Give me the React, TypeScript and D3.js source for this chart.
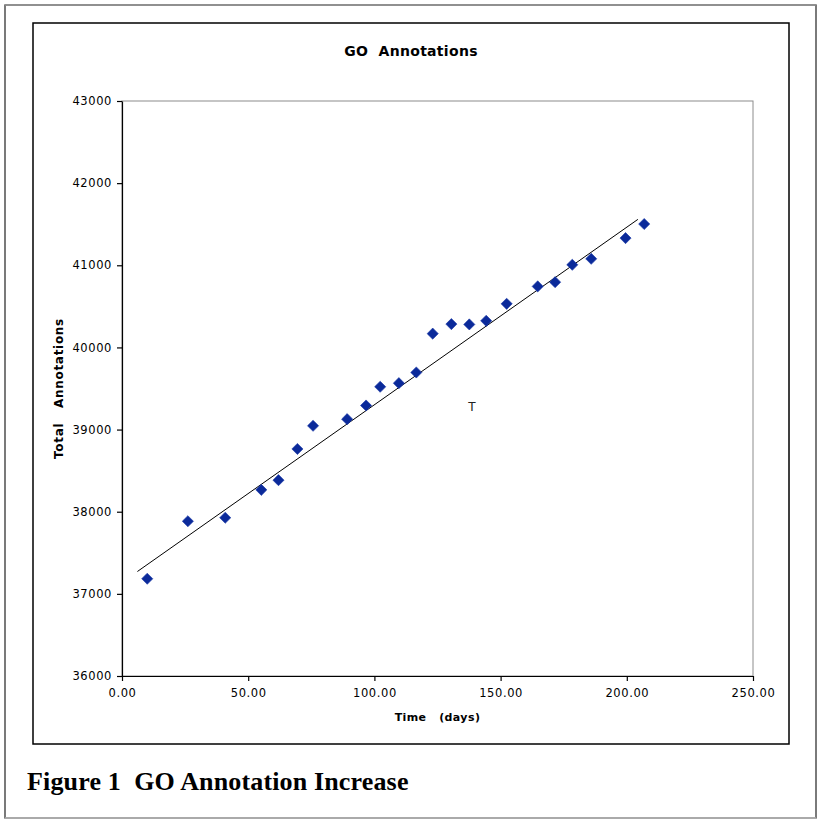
import React, { useEffect, useRef } from "react";
import * as d3 from "d3";

// days since start vs total GO annotations
const days = [
  10.0, 26.1, 40.9, 55.2, 62.0, 69.5, 75.7, 89.2, 96.7, 102.3, 109.7, 116.6,
  123.1, 130.5, 137.6, 144.3, 152.4, 164.7, 171.6, 178.4, 185.9, 199.5, 206.9,
];
const annotations = [
  37184, 37884, 37927, 38266, 38384, 38764, 39046, 39127, 39293, 39521, 39565,
  39695, 40168, 40284, 40280, 40324, 40531, 40743, 40795, 41006, 41079, 41331,
  41502,
];
// trendline end points as drawn in the figure
const trendDays = [6.1, 204.4];
const trendValues = [37272, 41559];
const xTicks = [0, 50, 100, 150, 200, 250];
const yTicks = [36000, 37000, 38000, 39000, 40000, 41000, 42000, 43000];

const W = 818;
const H = 821;
const sans = "'DejaVu Sans', Verdana, sans-serif";

export default function App() {
  const ref = useRef<SVGSVGElement>(null);

  useEffect(() => {
    if (!ref.current) return;
    const svg = d3.select(ref.current);
    svg.selectAll("*").remove();

    // outer page frame
    svg.append("rect")
      .attr("x", 5).attr("y", 5).attr("width", 811).attr("height", 813)
      .attr("fill", "#fff").attr("stroke", "#333").attr("stroke-width", 1.3);
    svg.append("line").attr("x1", 5).attr("x2", 816).attr("y1", 5).attr("y2", 5)
      .attr("stroke", "#999").attr("stroke-width", 1.3);
    svg.append("line").attr("x1", 5).attr("x2", 816).attr("y1", 818).attr("y2", 818)
      .attr("stroke", "#bbb").attr("stroke-width", 1.3);

    // chart box
    svg.append("rect")
      .attr("x", 33).attr("y", 23).attr("width", 756).attr("height", 721)
      .attr("fill", "#fff").attr("stroke", "#000").attr("stroke-width", 1.5);

    const plot = { left: 122, top: 101, right: 753, bottom: 676 };
    const x = d3.scaleLinear().domain([0, 250]).range([plot.left, plot.right]);
    const y = d3.scaleLinear().domain([36000, 43000]).range([plot.bottom, plot.top]);

    // plot area border (grey), axes drawn over it
    svg.append("rect")
      .attr("x", plot.left).attr("y", plot.top)
      .attr("width", plot.right - plot.left).attr("height", plot.bottom - plot.top)
      .attr("fill", "none").attr("stroke", "#8c8c8c").attr("stroke-width", 1);

    const gy = svg.append("g")
      .attr("transform", `translate(${plot.left},0)`)
      .call(d3.axisLeft(y).tickValues(yTicks).tickSize(5).tickSizeOuter(0)
        .tickPadding(5).tickFormat(d3.format("d")));
    const gx = svg.append("g")
      .attr("transform", `translate(0,${plot.bottom})`)
      .call(d3.axisBottom(x).tickValues(xTicks).tickSize(5).tickSizeOuter(0)
        .tickPadding(8).tickFormat(d3.format(".2f")));

    [gx, gy].forEach((g) => {
      g.selectAll("path, line").attr("stroke", "#000").attr("stroke-width", 1.2);
      g.selectAll("text")
        .attr("font-family", sans).attr("font-size", 11.5)
        .attr("letter-spacing", 0.6).attr("fill", "#000");
    });

    // linear trendline
    const line = d3.line<number>().x((d) => x(d)).y((d, i) => y(trendValues[i]));
    svg.append("path")
      .attr("d", line(trendDays))
      .attr("fill", "none").attr("stroke", "#000").attr("stroke-width", 1);

    // diamond markers
    const diamond = d3.symbol().type(d3.symbolSquare).size(62);
    svg.append("g").selectAll("path")
      .data(days)
      .join("path")
      .attr("d", diamond()!)
      .attr("transform", (d, i) => `translate(${x(d)},${y(annotations[i])}) rotate(45)`)
      .attr("fill", "#0b2a9a").attr("stroke", "#1c3aa8").attr("stroke-width", 0.6);

    // stray label inside plot
    svg.append("text")
      .attr("x", 472).attr("y", 411).attr("text-anchor", "middle")
      .attr("font-family", sans).attr("font-size", 12).attr("fill", "#222")
      .text("T");

    // titles
    svg.append("text")
      .attr("x", 411).attr("y", 56).attr("text-anchor", "middle")
      .attr("font-family", sans).attr("font-size", 14).attr("font-weight", "bold")
      .attr("letter-spacing", 0.3).style("white-space", "pre")
      .text("GO  Annotations");

    svg.append("text")
      .attr("x", (plot.left + plot.right) / 2).attr("y", 721).attr("text-anchor", "middle")
      .attr("font-family", sans).attr("font-size", 11).attr("font-weight", "bold")
      .attr("letter-spacing", 0.4).style("white-space", "pre")
      .text("Time   (days)");

    svg.append("text")
      .attr("transform", `translate(63,${(plot.top + plot.bottom) / 2}) rotate(-90)`)
      .attr("text-anchor", "middle")
      .attr("font-family", sans).attr("font-size", 12).attr("font-weight", "bold")
      .attr("letter-spacing", 0.7).style("white-space", "pre")
      .text("Total   Annotations");

    // figure caption
    svg.append("text")
      .attr("x", 27).attr("y", 790)
      .attr("font-family", "'Liberation Serif', 'Times New Roman', serif")
      .attr("font-size", 26).attr("font-weight", "bold").attr("fill", "#000")
      .attr("letter-spacing", 0.15).style("white-space", "pre")
      .text("Figure 1  GO Annotation Increase");
  }, []);

  return (
    <svg
      ref={ref}
      width={W}
      height={H}
      style={{ position: "absolute", left: 0, top: 0, background: "#fff" }}
    />
  );
}
